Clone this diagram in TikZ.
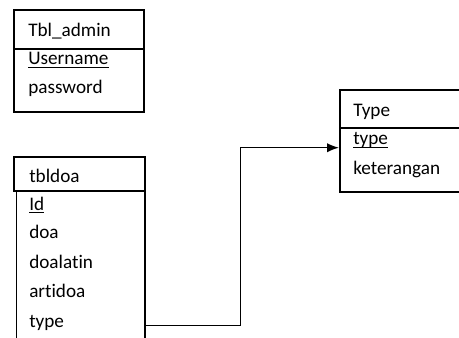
\documentclass[tikz,border=0pt]{standalone}
\usepackage{fontspec}
\setmainfont[Ligatures=NoCommon]{Carlito}
\usetikzlibrary{arrows.meta,positioning,calc}
\tikzset{
  field/.style={anchor=base west, inner sep=0pt, font=\fontsize{14.4}{17}\selectfont},
  tblline/.style={line width=1.1pt},
  keyline/.style={line width=0.8pt},
  link/.style={line width=1.1pt, -{Latex[length=9pt,width=7pt]}}
}
\begin{document}
\begin{tikzpicture}[x=0.75pt,y=-0.75pt]
	\useasboundingbox (0,0) rectangle (459,338);
	\clip (0,0) rectangle (459,338);
	
	% table Tbl_admin
	\draw[tblline] (14,10) rectangle (144,112);
	\draw[tblline] (14,49) -- (144,49);
	\node[field] (admin) at (28,37) {Tbl\_admin};
	\node[field] (admin-user) at (28,65) {Username};
	\node[field] (admin-pass) at (28,94) {password};
	\draw[keyline] ([yshift=-1.8pt]admin-user.base west) -- ([yshift=-1.8pt]admin-user.base east);
	
	% table tbldoa
	\draw[line width=1.6pt] (14,157) rectangle (145,191);
	\draw[tblline] (16.5,191) -- (16.5,340);
	\draw[tblline] (145,191) -- (145,340);
	\node[field] (doa) at (29,182) {tbldoa};
	\node[field] (doa-id) at (29,210) {Id};
	\node[field] (doa-doa) at (29,238) {doa};
	\node[field] (doa-latin) at (29,268) {doalatin};
	\node[field] (doa-arti) at (29,297) {artidoa};
	\node[field] (doa-type) at (29,327) {type};
	\draw[keyline] ([yshift=-1.8pt]doa-id.base west) -- ([yshift=-1.8pt]doa-id.base east);
	
	% table Type
	\draw[tblline] (340,90) rectangle (480,192);
	\draw[tblline] (340,128) -- (480,128);
	\node[field] (type) at (353,117) {Type};
	\node[field] (type-key) at (353,145) {type};
	\node[field] (type-ket) at (353,175) {keterangan};
	\draw[keyline] ([yshift=-1.8pt]type-key.base west) -- ([yshift=-1.8pt]type-key.base east);
	
	% relation tbldoa.type -> Type.type
	\coordinate (from) at (145,325.7);
	\coordinate (bend) at (240.7,147.7);
	\coordinate (to) at (339,147.7);
	\draw[link] (from) -| (bend) -- (to);
\end{tikzpicture}
\end{document}
